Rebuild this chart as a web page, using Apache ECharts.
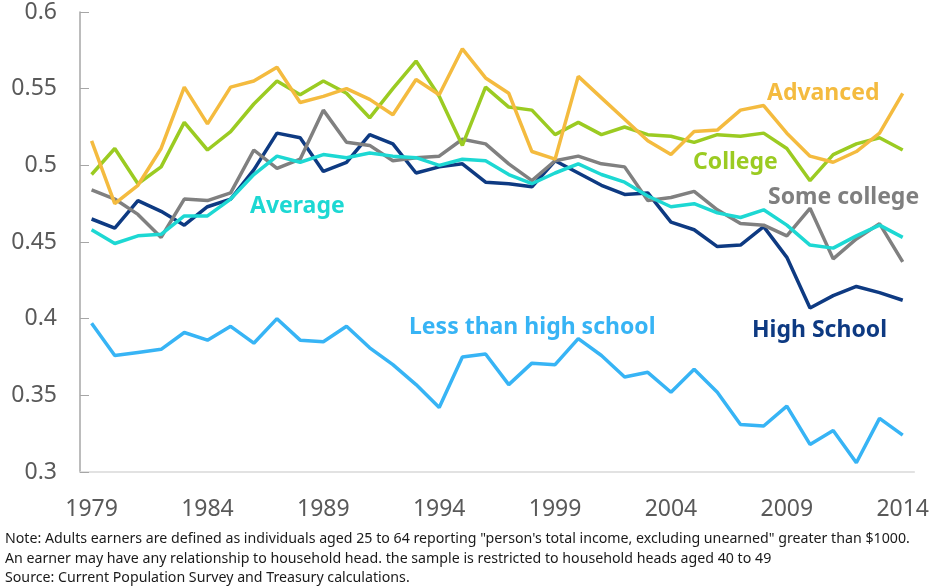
<!DOCTYPE html>
<html>
<head>
<meta charset="utf-8">
<script src="https://cdn.jsdelivr.net/npm/echarts@6/dist/echarts.min.js"></script>
<style>
  html, body { margin: 0; padding: 0; background: #fff; }
  #myechart { width: 932px; height: 586px; }
</style>
</head>
<body>
<div id="myechart"></div>
<script>
// years on the x axis
var years = [];
for (var y = 1979; y <= 2014; y++) years.push(String(y));

// share of household earnings
var lessThanHighSchool = [0.397, 0.376, 0.378, 0.380, 0.391, 0.386, 0.395, 0.384, 0.400, 0.386, 0.385, 0.395,
  0.381, 0.370, 0.357, 0.342, 0.375, 0.377, 0.357, 0.371, 0.370, 0.387, 0.376, 0.362,
  0.365, 0.352, 0.367, 0.352, 0.331, 0.330, 0.343, 0.318, 0.327, 0.306, 0.335, 0.324];
var highSchool = [0.465, 0.459, 0.477, 0.470, 0.461, 0.473, 0.478, 0.497, 0.521, 0.518, 0.496, 0.502,
  0.520, 0.514, 0.495, 0.499, 0.501, 0.489, 0.488, 0.486, 0.503, 0.495, 0.487, 0.481,
  0.482, 0.463, 0.458, 0.447, 0.448, 0.460, 0.440, 0.407, 0.415, 0.421, 0.417, 0.412];
var someCollege = [0.484, 0.478, 0.468, 0.453, 0.478, 0.477, 0.482, 0.510, 0.498, 0.504, 0.536, 0.515,
  0.513, 0.503, 0.505, 0.506, 0.517, 0.514, 0.501, 0.490, 0.503, 0.506, 0.501, 0.499,
  0.477, 0.479, 0.483, 0.471, 0.462, 0.461, 0.454, 0.472, 0.439, 0.452, 0.462, 0.437];
var college = [0.494, 0.511, 0.488, 0.499, 0.528, 0.510, 0.522, 0.540, 0.555, 0.546, 0.555, 0.547,
  0.531, 0.550, 0.568, 0.545, 0.513, 0.551, 0.538, 0.536, 0.520, 0.528, 0.520, 0.525,
  0.520, 0.519, 0.515, 0.520, 0.519, 0.521, 0.511, 0.490, 0.507, 0.514, 0.518, 0.510];
var advanced = [0.516, 0.475, 0.487, 0.511, 0.551, 0.527, 0.551, 0.555, 0.564, 0.541, 0.545, 0.550,
  0.543, 0.533, 0.556, 0.546, 0.576, 0.557, 0.547, 0.509, 0.504, 0.558, 0.544, 0.530,
  0.516, 0.507, 0.522, 0.523, 0.536, 0.539, 0.521, 0.506, 0.502, 0.509, 0.521, 0.547];
var average = [0.458, 0.449, 0.454, 0.455, 0.467, 0.467, 0.478, 0.494, 0.506, 0.502, 0.507, 0.505,
  0.508, 0.506, 0.505, 0.500, 0.504, 0.503, 0.494, 0.488, 0.495, 0.501, 0.494, 0.489,
  0.480, 0.473, 0.475, 0.469, 0.466, 0.471, 0.461, 0.448, 0.446, 0.454, 0.461, 0.453];

var noteLines = [
  'Note: Adults earners are defined as individuals aged 25 to 64 reporting "person\'s total income, excluding unearned" greater than $1000.',
  'An earner may have any relationship to household head. the sample is restricted to household heads aged 40 to 49',
  'Source: Current Population Survey and Treasury calculations.'
];

var myechart = echarts.init(document.getElementById('myechart'));

function line(name, data, color) {
  return {
    name: name,
    type: 'line',
    data: data,
    symbol: 'none',
    lineStyle: { color: color, width: 3.5 },
    itemStyle: { color: color }
  };
}

function tag(text, x, y, color) {
  return {
    type: 'text',
    x: x,
    y: y,
    style: {
      text: text,
      fill: color,
      font: 'bold 23px "Noto Sans", sans-serif',
      textVerticalAlign: 'middle'
    }
  };
}

var graphic = [
  tag('Advanced', 767, 93, '#f4bb3f'),
  tag('College', 693, 162, '#9bcb22'),
  tag('Some college', 768, 197, '#7f7f7f'),
  tag('Average', 250, 206, '#1dd8d3'),
  tag('Less than high school', 409, 327, '#37b4f5'),
  tag('High School', 752, 330, '#0e3a82')
];
for (var i = 0; i < noteLines.length; i++) {
  graphic.push({
    type: 'text',
    x: 5,
    y: 539 + i * 19.5,
    style: {
      text: noteLines[i],
      fill: '#1a1a1a',
      font: '14.2px "Noto Sans", sans-serif',
      textVerticalAlign: 'middle'
    }
  });
}

var option = {
  animation: false,
  grid: { left: 80, right: 16, top: 12, bottom: 114 },
  xAxis: {
    type: 'category',
    data: years,
    boundaryGap: true,
    axisLine: { lineStyle: { color: '#d9d9d9', width: 1.5 } },
    axisTick: { inside: true, length: 11, interval: 4, alignWithLabel: false, lineStyle: { color: '#d9d9d9' } },
    axisLabel: { interval: 4, fontSize: 23, color: '#595959', margin: 26, fontFamily: '"Noto Sans", sans-serif' },
    splitLine: { show: false }
  },
  yAxis: {
    type: 'value',
    min: 0.3,
    max: 0.6,
    interval: 0.05,
    axisLine: { show: true, lineStyle: { color: '#a6a6a6', width: 1.5 } },
    axisTick: { show: true, inside: true, length: 9, lineStyle: { color: '#a6a6a6' } },
    axisLabel: { fontSize: 23, color: '#595959', margin: 23, fontFamily: '"Noto Sans", sans-serif' },
    splitLine: { show: false }
  },
  series: [
    line('Less than high school', lessThanHighSchool, '#37b4f5'),
    line('High School', highSchool, '#0e3a82'),
    line('Some college', someCollege, '#808080'),
    line('College', college, '#9bcb22'),
    line('Advanced', advanced, '#f4bb3f'),
    line('Average', average, '#1dd8d3')
  ],
  graphic: graphic
};

myechart.setOption(option);
</script>
</body>
</html>
